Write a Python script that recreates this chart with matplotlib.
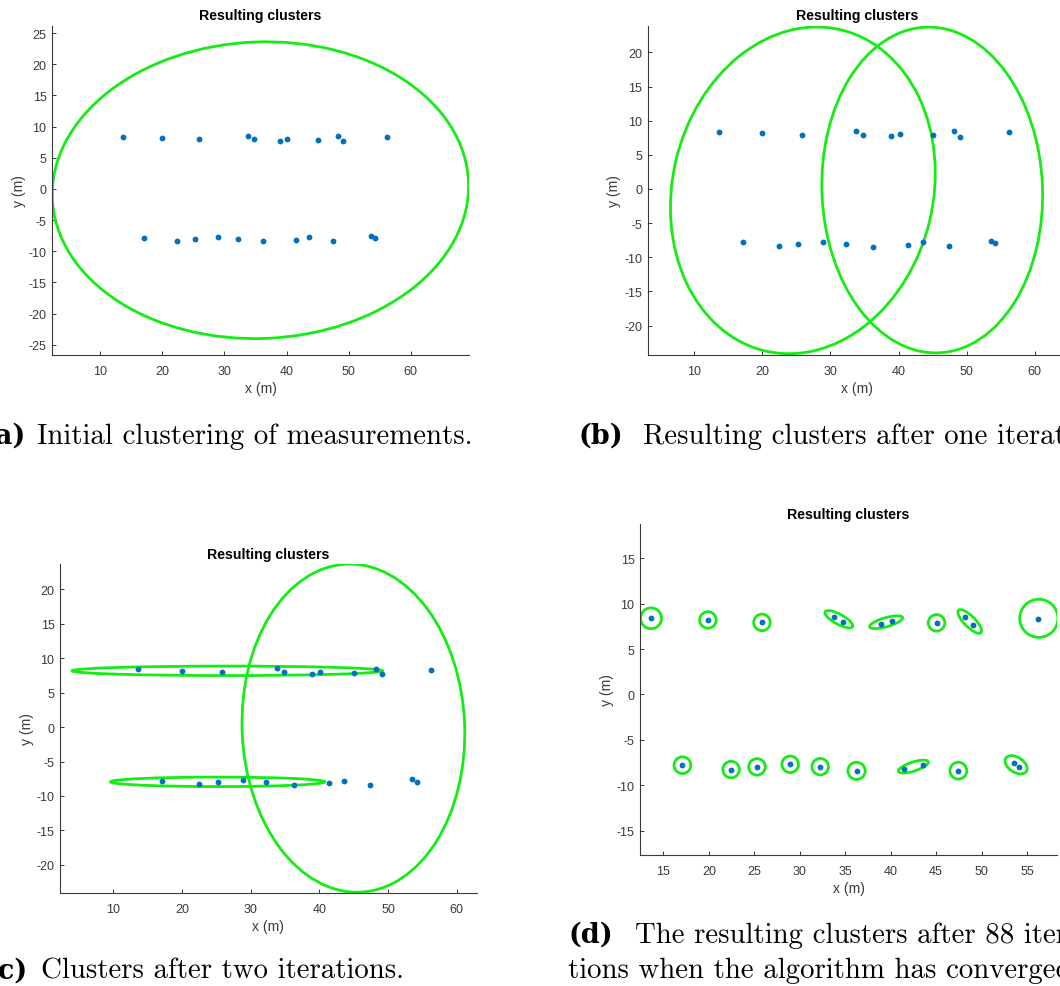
import matplotlib
matplotlib.use("Agg")
import matplotlib.pyplot as plt
from matplotlib.patches import Ellipse

plt.rcParams["axes.unicode_minus"] = False
plt.rcParams["font.family"] = ["Liberation Sans", "DejaVu Sans"]

W, H = 1060, 987

# ---- measurements (same in all panels) ----
meas_x = [13.65, 19.95, 25.85, 33.8, 34.8, 38.9, 40.15, 45.05, 48.2, 49.1, 56.2,
          17.1, 22.45, 25.25, 28.95, 32.25, 36.25, 41.45, 43.55, 47.4, 53.55, 54.15]
meas_y = [8.4, 8.2, 7.95, 8.55, 7.95, 7.75, 8.05, 7.85, 8.5, 7.65, 8.35,
          -7.8, -8.28, -7.98, -7.7, -7.98, -8.42, -8.17, -7.77, -8.4, -7.6, -7.95]

# ---- cluster ellipses per panel ----
a_cx = [35.8];   a_cy = [-0.2];   a_w = [67.0];  a_h = [47.6];  a_ang = [2.3]

b_cx = [25.95, 44.95]; b_cy = [-0.2, -0.15]; b_w = [38.3, 32.4]; b_h = [48.3, 47.7]; b_ang = [-13.4, 2.3]

c_cx = [26.6, 25.2, 44.95]; c_cy = [8.18, -7.95, -0.15]
c_w = [45.2, 31.2, 32.4];   c_h = [1.38, 1.38, 47.7];  c_ang = [0.0, 0.0, 2.3]

d_cx = [13.65, 19.9, 25.85, 34.3, 39.5, 45.05, 48.7, 56.3,
        17.1, 22.45, 25.3, 28.95, 32.25, 36.25, 42.5, 47.45, 53.8]
d_cy = [8.4, 8.22, 7.95, 8.3, 7.97, 7.9, 8.05, 8.4,
        -7.8, -8.28, -7.98, -7.7, -7.96, -8.42, -7.95, -8.4, -7.75]
d_w = [2.3, 1.82, 1.82, 3.44, 3.76, 1.82, 3.5, 4.2,
       1.85, 1.82, 1.82, 1.82, 1.82, 1.9, 3.45, 1.85, 2.7]
d_h = [2.3, 1.82, 1.82, 1.1, 1.0, 1.82, 1.2, 4.2,
       1.85, 1.82, 1.82, 1.82, 1.82, 1.9, 1.0, 1.85, 1.65]
d_ang = [0, 0, 0, -28.5, 16, 0, -45, 0,
         0, 0, 0, 0, 0, 0, 18, 0, -32.6]

# ---- axis settings ----
a_xlim = (2.27, 69.4);  a_ylim = (-26.65, 26.2)
b_xlim = (3.16, 64.6);  b_ylim = (-24.3, 23.9)
c_xlim = (2.24, 62.9);  c_ylim = (-24.1, 23.7)
d_xlim = (12.43, 58.3); d_ylim = (-17.7, 18.8)
a_xticks = [10, 20, 30, 40, 50, 60]; a_yticks = [-25, -20, -15, -10, -5, 0, 5, 10, 15, 20, 25]
b_xticks = [10, 20, 30, 40, 50, 60]; b_yticks = [-20, -15, -10, -5, 0, 5, 10, 15, 20]
c_xticks = [10, 20, 30, 40, 50, 60]; c_yticks = [-20, -15, -10, -5, 0, 5, 10, 15, 20]
d_xticks = [15, 20, 25, 30, 35, 40, 45, 50, 55]; d_yticks = [-15, -10, -5, 0, 5, 10, 15]

title_text = "Resulting clusters"
xlabel_text = "x (m)"
ylabel_text = "y (m)"

AX_COL = "#3a3a3a"
PT_COL = "#0072BD"
EL_COL = "#14ec14"

fig = plt.figure(figsize=(W / 100, H / 100), dpi=100)


def box(l, t, r, b):
    return [l / W, 1 - b / H, (r - l) / W, (b - t) / H]


def panel(rect, xlim, ylim, xt, yt, cx, cy, w, h, ang):
    ax = fig.add_axes(box(*rect))
    ax.set_xlim(*xlim)
    ax.set_ylim(*ylim)
    ax.set_xticks(xt)
    ax.set_yticks(yt)
    for s in ["top", "right"]:
        ax.spines[s].set_visible(False)
    for s in ["left", "bottom"]:
        ax.spines[s].set_color(AX_COL)
        ax.spines[s].set_linewidth(0.8)
    ax.tick_params(direction="in", length=3, width=0.7, colors=AX_COL,
                   labelsize=9, labelcolor=AX_COL)
    ax.tick_params(axis="x", pad=7)
    ax.tick_params(axis="y", pad=4)
    ax.plot(meas_x, meas_y, "o", ms=4.2, color=PT_COL, mew=0, zorder=3)
    for i in range(len(cx)):
        e = Ellipse((cx[i], cy[i]), w[i], h[i], angle=ang[i], fill=False,
                    edgecolor=EL_COL, lw=2.0, zorder=2)
        ax.add_patch(e)
    ax.set_title(title_text, fontsize=10.2, fontweight="bold", pad=4.5, color="black")
    ax.set_xlabel(xlabel_text, fontsize=10, color=AX_COL, labelpad=3)
    ax.set_ylabel(ylabel_text, fontsize=10, color=AX_COL, labelpad=2)
    return ax


panel((52, 26.7, 469.3, 356), a_xlim, a_ylim, a_xticks, a_yticks, a_cx, a_cy, a_w, a_h, a_ang)
panel((647.7, 26.7, 1066, 356), b_xlim, b_ylim, b_xticks, b_yticks, b_cx, b_cy, b_w, b_h, b_ang)
panel((60, 565, 476.7, 894), c_xlim, c_ylim, c_xticks, c_yticks, c_cx, c_cy, c_w, c_h, c_ang)
panel((640, 525, 1057, 856), d_xlim, d_ylim, d_xticks, d_yticks, d_cx, d_cy, d_w, d_h, d_ang)

CAP_FS = 20.8
LAB_FS = 19.5


def caption(label, label_right, text, text_left, baseline):
    fig.text(label_right / W, 1 - baseline / H, label, fontsize=LAB_FS,
             family="DejaVu Serif", fontweight="bold", ha="right", va="baseline",
             color="black")
    fig.text(text_left / W, 1 - baseline / H, text, fontsize=CAP_FS,
             family="cmr10", ha="left", va="baseline", color="black")


caption("(a)", 26, "Initial clustering of measurements.", 37, 444)
caption("(b)", 623, "Resulting clusters after one iteration.", 643, 444)
caption("(c)", 28, "Clusters after two iterations.", 41, 979)
caption("(d)", 613, "The resulting clusters after 88 itera-", 635, 943)
fig.text(568 / W, 1 - 978 / H, "tions when the algorithm has converged.", fontsize=CAP_FS,
         family="cmr10", ha="left", va="baseline", color="black")

fig.savefig("out.png", dpi=100)
